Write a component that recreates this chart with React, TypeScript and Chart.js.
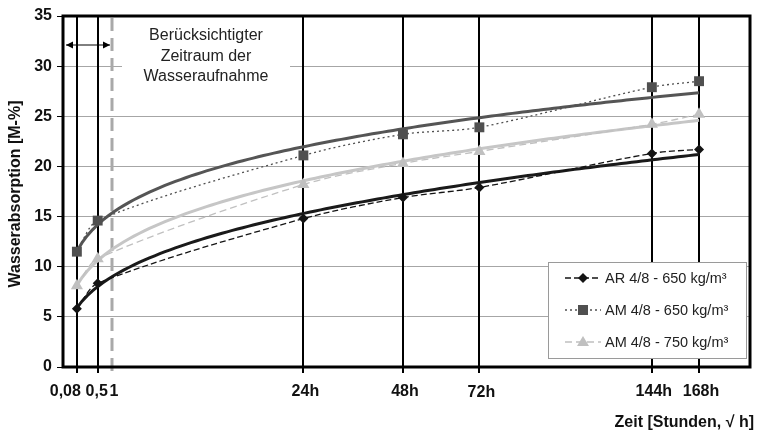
import React, { useEffect, useRef } from "react";
import { Chart, registerables } from "chart.js";

Chart.register(...registerables);

// ---- data ----
const hours = [0.08, 0.5, 24, 48, 72, 144, 168];
const tickHours = [0.08, 0.5, 1, 24, 48, 72, 144, 168];
const tickLabels = ["0,08", "0,5", "1", "24h", "48h", "72h", "144h", "168h"];
const arValues = [5.8, 8.35, 14.8, 16.9, 17.9, 21.3, 21.7];
const am650Values = [11.5, 14.6, 21.1, 23.2, 23.9, 27.9, 28.5];
const am750Values = [8.1, 10.8, 18.2, 20.3, 21.5, 24.2, 25.2];
const seriesNames = ["AR 4/8 - 650 kg/m³", "AM 4/8 - 650 kg/m³", "AM 4/8 - 750 kg/m³"];
const yTitle = "Wasserabsorption [M-%]";
const xTitle = "Zeit [Stunden, √ h]";
const noteLines = ["Berücksichtigter", "Zeitraum der", "Wasseraufnahme"];

const FONT = "'Liberation Sans', Arial, sans-serif";

// power trendline (least squares in log-log space), like a spreadsheet trendline
function powerFit(xs: number[], ys: number[]) {
  const lx = xs.map(Math.log);
  const ly = ys.map(Math.log);
  const n = xs.length;
  const mx = lx.reduce((a, b) => a + b, 0) / n;
  const my = ly.reduce((a, b) => a + b, 0) / n;
  let sxy = 0, sxx = 0;
  for (let i = 0; i < n; i++) {
    sxy += (lx[i] - mx) * (ly[i] - my);
    sxx += (lx[i] - mx) ** 2;
  }
  const b = sxy / sxx;
  const a = Math.exp(my - b * mx);
  return (h: number) => a * Math.pow(h, b);
}

function trendPoints(values: number[]) {
  const f = powerFit(hours, values);
  const s0 = Math.sqrt(hours[0]);
  const s1 = Math.sqrt(hours[hours.length - 1]);
  const pts: { x: number; y: number }[] = [];
  const N = 120;
  for (let i = 0; i <= N; i++) {
    const s = s0 + ((s1 - s0) * i) / N;
    pts.push({ x: s, y: f(s * s) });
  }
  return pts;
}

const toPts = (vals: number[]) => hours.map((h, i) => ({ x: Math.sqrt(h), y: vals[i] }));

const styles = [
  { color: "#141414", marker: "rectRot", radius: 5, dash: [6, 3], trend: "#1a1a1a" },
  { color: "#505050", marker: "rect", radius: 7, dash: [2, 3], trend: "#555555" },
  { color: "#c0c0c0", marker: "triangle", radius: 7, dash: [7, 4], trend: "#c6c6c6" },
];

const decorPlugin = {
  id: "decor",
  beforeDatasetsDraw(chart: any) {
    const { ctx, chartArea } = chart;
    const xs = chart.scales.x;
    ctx.save();
    // vertical lines at measurement times
    tickHours.forEach((h) => {
      const px = Math.round(xs.getPixelForValue(Math.sqrt(h)));
      ctx.beginPath();
      if (h === 1) {
        ctx.strokeStyle = "#a9a9a9";
        ctx.lineWidth = 3;
        ctx.setLineDash([13, 7]);
        ctx.moveTo(px, chartArea.top + 2);
      } else {
        ctx.strokeStyle = "#000";
        ctx.lineWidth = 2;
        ctx.setLineDash([]);
        ctx.moveTo(px, chartArea.top);
      }
      ctx.lineTo(px, chartArea.bottom + 6);
      ctx.stroke();
    });
    ctx.setLineDash([]);
    // note box
    ctx.fillStyle = "#fff";
    ctx.fillRect(122, 20, 168, 70);
    ctx.fillStyle = "#222";
    ctx.font = `16px ${FONT}`;
    ctx.textAlign = "center";
    ctx.textBaseline = "middle";
    const ny = [36, 56.5, 77];
    noteLines.forEach((t, i) => ctx.fillText(t, 206, ny[i]));
    // double arrow
    const ay = 45;
    const ax0 = chartArea.left + 3;
    const ax1 = Math.round(xs.getPixelForValue(1)) - 2;
    ctx.strokeStyle = "#000";
    ctx.fillStyle = "#000";
    ctx.lineWidth = 1;
    ctx.beginPath();
    ctx.moveTo(ax0, ay);
    ctx.lineTo(ax1, ay);
    ctx.stroke();
    ctx.beginPath();
    ctx.moveTo(ax0, ay);
    ctx.lineTo(ax0 + 7, ay - 3.5);
    ctx.lineTo(ax0 + 7, ay + 3.5);
    ctx.closePath();
    ctx.fill();
    ctx.beginPath();
    ctx.moveTo(ax1, ay);
    ctx.lineTo(ax1 - 7, ay - 3.5);
    ctx.lineTo(ax1 - 7, ay + 3.5);
    ctx.closePath();
    ctx.fill();
    ctx.restore();
  },
  afterDraw(chart: any) {
    const { ctx, chartArea } = chart;
    const xs = chart.scales.x;
    ctx.save();
    // legend
    const lx = 548, ly = 262, lw = 198, lh = 96;
    ctx.fillStyle = "#fff";
    ctx.fillRect(lx, ly, lw, lh);
    ctx.strokeStyle = "#9a9a9a";
    ctx.lineWidth = 1;
    ctx.strokeRect(lx + 0.5, ly + 0.5, lw, lh);
    const rows = [278, 310, 342];
    seriesNames.forEach((name, i) => {
      const st = styles[i];
      const y = rows[i];
      ctx.strokeStyle = st.color;
      ctx.lineWidth = 1.3;
      ctx.setLineDash(st.dash);
      ctx.beginPath();
      ctx.moveTo(565, y);
      ctx.lineTo(601, y);
      ctx.stroke();
      ctx.setLineDash([]);
      ctx.fillStyle = st.color;
      const cx = 583;
      ctx.beginPath();
      if (st.marker === "rectRot") {
        ctx.moveTo(cx, y - 5); ctx.lineTo(cx + 5, y); ctx.lineTo(cx, y + 5); ctx.lineTo(cx - 5, y);
      } else if (st.marker === "rect") {
        ctx.rect(cx - 5, y - 5, 10, 10);
      } else {
        ctx.moveTo(cx, y - 6); ctx.lineTo(cx + 6, y + 4); ctx.lineTo(cx - 6, y + 4);
      }
      ctx.closePath();
      ctx.fill();
      ctx.fillStyle = "#222";
      ctx.font = `14.5px ${FONT}`;
      ctx.textAlign = "left";
      ctx.textBaseline = "middle";
      ctx.fillText(name, 605, y + 1);
    });
    // frame
    ctx.strokeStyle = "#000";
    ctx.lineWidth = 3;
    ctx.strokeRect(chartArea.left, chartArea.top, chartArea.right - chartArea.left, chartArea.bottom - chartArea.top);
    // x tick labels
    ctx.fillStyle = "#111";
    ctx.font = `bold 16px ${FONT}`;
    ctx.textBaseline = "middle";
    tickHours.forEach((h, i) => {
      const px = xs.getPixelForValue(Math.sqrt(h));
      if (i === 0) {
        ctx.textAlign = "right";
        ctx.fillText(tickLabels[i], px + 4, 392);
      } else if (i === 1) {
        ctx.textAlign = "center";
        ctx.fillText(tickLabels[i], px - 1, 392);
      } else {
        ctx.textAlign = "center";
        ctx.fillText(tickLabels[i], px + 2, i === 5 ? 393 : 392);
      }
    });
    // axis titles
    ctx.textAlign = "right";
    ctx.fillText(xTitle, 754, 423);
    ctx.save();
    ctx.translate(16, 194);
    ctx.rotate(-Math.PI / 2);
    ctx.textAlign = "center";
    ctx.fillText(yTitle, 0, 0);
    ctx.restore();
    ctx.restore();
  },
};

export default function App() {
  const ref = useRef<HTMLCanvasElement>(null);
  useEffect(() => {
    if (!ref.current) return;
    const valueSets = [arValues, am650Values, am750Values];
    const datasets: any[] = [];
    valueSets.forEach((vals, i) => {
      const st = styles[i];
      datasets.push({
        label: seriesNames[i],
        data: toPts(vals),
        borderColor: st.color,
        backgroundColor: st.color,
        borderWidth: 1.3,
        borderDash: st.dash,
        pointStyle: st.marker,
        pointRadius: st.radius,
        pointBorderWidth: 0,
        pointBackgroundColor: st.color,
        tension: 0.3,
        order: 1,
      });
    });
    valueSets.forEach((vals, i) => {
      const st = styles[i];
      datasets.push({
        label: seriesNames[i] + " trend",
        data: trendPoints(vals),
        borderColor: st.trend,
        borderWidth: 3,
        pointRadius: 0,
        tension: 0,
        order: 2,
      });
    });
    const chart = new Chart(ref.current, {
      type: "line",
      data: { datasets },
      options: {
        animation: false,
        responsive: false,
        devicePixelRatio: 1,
        layout: { padding: { top: 16, right: 4, left: 0, bottom: 0 } },
        plugins: { legend: { display: false }, tooltip: { enabled: false } },
        scales: {
          x: {
            type: "linear",
            min: 0,
            max: 14,
            ticks: { display: false },
            grid: { display: false },
            border: { display: false },
            afterFit: (s: any) => { s.height = 66; },
          },
          y: {
            min: 0,
            max: 35,
            ticks: {
              stepSize: 5,
              color: "#111",
              padding: 5,
              font: { family: FONT, size: 16, weight: "bold" },
            },
            grid: { color: "#a6a6a6", lineWidth: 1, tickLength: 6, tickColor: "#000" },
            border: { display: false },
            afterFit: (s: any) => { s.width = 63; },
          },
        },
      },
      plugins: [decorPlugin],
    } as any);
    return () => chart.destroy();
  }, []);
  return (
    <div style={{ position: "fixed", left: 0, top: 0, width: 757, height: 433, background: "#fff" }}>
      <canvas ref={ref} width={757} height={433} />
    </div>
  );
}
